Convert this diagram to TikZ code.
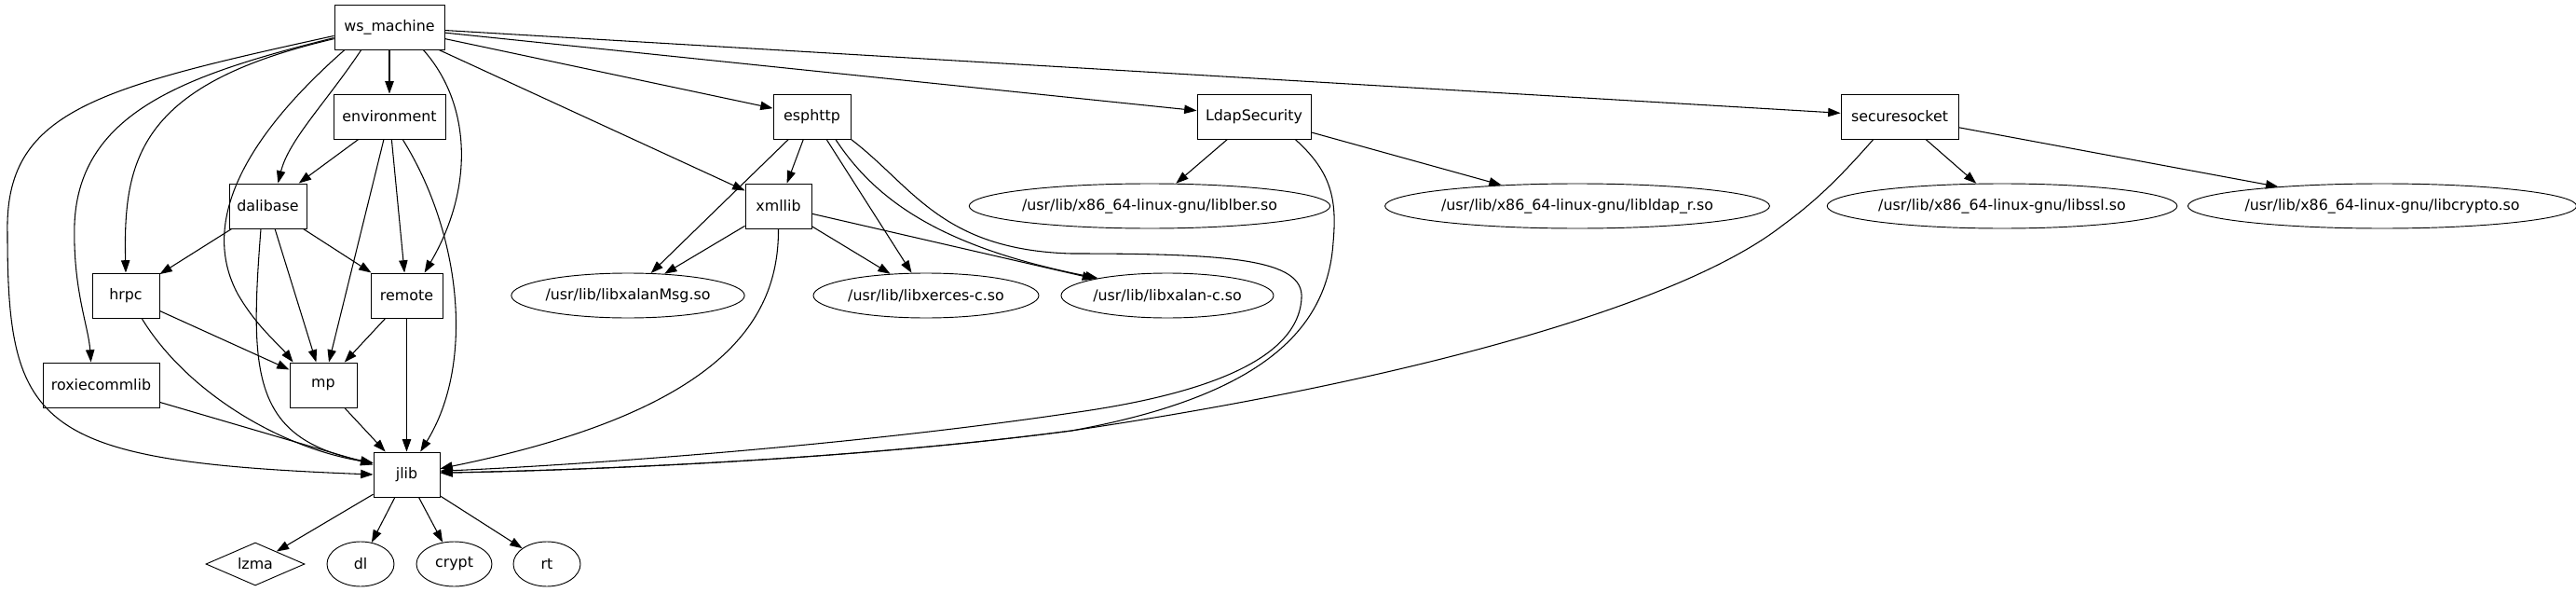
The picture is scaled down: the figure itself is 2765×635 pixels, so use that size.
\documentclass[tikz,border=0pt]{standalone}
\usepackage{fontspec}
\setmainfont{DejaVu Sans}
\usetikzlibrary{shapes.geometric,arrows.meta}
\begin{document}
\begin{tikzpicture}[x=0.75pt,y=-0.75pt,
  every node/.style={font=\fontsize{11.9}{14}\selectfont, inner sep=0pt},
  bxw/.style={draw, rectangle, minimum height=36pt, line width=0.7pt, minimum width=#1*0.75pt},
  elw/.style={draw, ellipse, minimum height=36pt, line width=0.7pt, minimum width=#1*0.75pt},
  dmd/.style={draw, diamond, aspect=2.3, minimum width=106*0.75pt, minimum height=46*0.75pt, line width=0.7pt},
  dep/.style={-{Triangle[length=10pt,width=7pt]}, line width=0.8pt}]
\useasboundingbox (0,0) rectangle (2765,635);
% nodes
\node[bxw=118] (ws) at (418,29) {ws\_machine};
\node[bxw=120] (env) at (418,125) {environment};
\node[bxw=83] (dal) at (287.5,221) {dalibase};
\node[bxw=72] (hrpc) at (135,317) {hrpc};
\node[bxw=77] (remote) at (436.5,317) {remote};
\node[bxw=125] (rox) at (108.5,413) {roxiecommlib};
\node[bxw=72] (mp) at (347,413) {mp};
\node[bxw=71] (jlib) at (436.5,509) {jlib};
\node[dmd] (lzma) at (274,605) {lzma};
\node[elw=72] (dl) at (387,605) {dl};
\node[elw=81] (crypt) at (487.5,605) {crypt};
\node[elw=72] (rt) at (587,605) {rt};
\node[bxw=83] (esp) at (871.5,125) {esphttp};
\node[bxw=71] (xml) at (835.5,221) {xmllib};
\node[elw=248] (xmsg) at (674,317) {/usr/lib/libxalanMsg.so};
\node[elw=242] (xerces) at (994,317) {/usr/lib/libxerces-c.so};
\node[elw=228] (xalanc) at (1253,317) {/usr/lib/libxalan-c.so};
\node[bxw=122] (ldap) at (1346,125) {LdapSecurity};
\node[elw=372] (lber) at (1234,221) {/usr/lib/x86\_64-linux-gnu/liblber.so};
\node[elw=399] (ldapr) at (1693,221) {/usr/lib/x86\_64-linux-gnu/libldap\_r.so};
\node[bxw=126] (ss) at (2039,125) {securesocket};
\node[elw=366] (ssl) at (2149,221) {/usr/lib/x86\_64-linux-gnu/libssl.so};
\node[elw=403] (crypto) at (2557,221) {/usr/lib/x86\_64-linux-gnu/libcrypto.so};
% ws_machine edges
\draw[dep] (ws) -- (env);
\draw[dep] (ws.219) .. controls (350,110) and (310,150) .. (dal.66);
\draw[dep] (ws.192) .. controls (150,90) and (132,170) .. (hrpc.north);
\draw[dep] (ws.191) .. controls (200,80) and (85,120) .. (80,240) .. controls (78,310) and (95,350) .. (rox.114);
\draw[dep] (ws.189) .. controls (100,95) and (5,120) .. (8,250) .. controls (8,460) and (40,495) .. (jlib.west);
\draw[dep] (ws.207) .. controls (260,150) and (215,240) .. (255,315) .. controls (275,350) and (300,370) .. (mp.143);
\draw[dep] (ws.-34) .. controls (505,110) and (510,200) .. (remote.52);
\draw[dep] (ws) -- (xml);
\draw[dep] (ws) -- (esp);
\draw[dep] (ws) -- (ldap);
\draw[dep] (ws) -- (ss);
% environment
\draw[dep] (env) -- (dal);
\draw[dep] (env) -- (remote);
\draw[dep] (env) -- (mp);
\draw[dep] (env.-60) .. controls (495,250) and (510,390) .. (jlib.59);
% dalibase
\draw[dep] (dal) -- (hrpc);
\draw[dep] (dal) -- (remote);
\draw[dep] (dal) -- (mp);
\draw[dep] (dal.-107) .. controls (268,400) and (270,470) .. (jlib.161);
% hrpc, remote, roxiecommlib, mp
\draw[dep] (hrpc) -- (mp);
\draw[dep] (hrpc.-55) .. controls (200,420) and (300,480) .. (jlib.161);
\draw[dep] (remote) -- (mp);
\draw[dep] (remote) -- (jlib);
\draw[dep] (rox) -- (jlib);
\draw[dep] (mp) -- (jlib);
% jlib
\draw[dep] (jlib) -- (lzma);
\draw[dep] (jlib) -- (dl);
\draw[dep] (jlib) -- (crypt);
\draw[dep] (jlib) -- (rt);
% esphttp
\draw[dep] (esp) -- (xml);
\draw[dep] (esp) -- (xmsg);
\draw[dep] (esp) -- (xerces);
\draw[dep] (esp.-44) .. controls (940,215) and (1010,265) .. (xalanc.166);
\draw[dep] (esp.south east) .. controls (980,200) and (1010,268) .. (1150,272) .. controls (1320,272) and (1400,278) .. (1397,320) .. controls (1393,390) and (1280,425) .. (1150,443) .. controls (900,480) and (600,500) .. (jlib.6);
% xmllib
\draw[dep] (xml) -- (xmsg);
\draw[dep] (xml) -- (xerces);
\draw[dep] (xml) -- (xalanc);
\draw[dep] (xml.south) .. controls (836,340) and (780,440) .. (jlib.10);
% LdapSecurity
\draw[dep] (ldap) -- (lber);
\draw[dep] (ldap) -- (ldapr);
\draw[dep] (ldap.-29) .. controls (1430,185) and (1435,215) .. (1431,260) .. controls (1425,350) and (1360,424) .. (1150,462) .. controls (900,495) and (600,505) .. (jlib.3);
% securesocket
\draw[dep] (ss) -- (ssl);
\draw[dep] (ss) -- (crypto);
\draw[dep] (ss.221) .. controls (1975,190) and (1950,215) .. (1913,242) .. controls (1800,330) and (1500,410) .. (1150,462) .. controls (900,495) and (600,505) .. (jlib.3);
\end{tikzpicture}
\end{document}
